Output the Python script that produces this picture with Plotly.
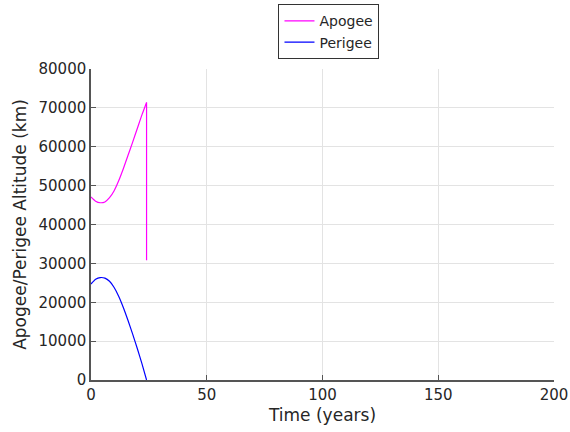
import plotly.graph_objects as go

# Orbit decay history: apogee/perigee altitude versus time
apogee_t = [0, 2, 4, 6, 8, 10, 12, 14, 16, 18, 20, 22, 24, 24]
apogee_km = [47100, 46000, 45600, 45800, 46900, 48700, 51300, 54400,
             57800, 61200, 64700, 68200, 71400, 30800]

perigee_t = [0, 2, 4, 6, 8, 10, 12, 14, 16, 18, 20, 22, 24]
perigee_km = [24700, 25900, 26350, 26200, 25400, 23800, 21500, 18600,
              15300, 11800, 8100, 4200, 0]

x_ticks = [0, 50, 100, 150, 200]
y_ticks = [0, 10000, 20000, 30000, 40000, 50000, 60000, 70000, 80000]

font_family = "DejaVu Sans"
axis_color = "#555555"
grid_color = "#e3e3e3"
text_color = "#262626"

fig = go.Figure()
# smooth apogee history up to re-entry
fig.add_trace(go.Scatter(x=apogee_t[:-1], y=apogee_km[:-1], mode="lines", name="Apogee",
                         line=dict(color="#ff00ff", width=1.2, shape="spline", smoothing=0.6)))
fig.add_trace(go.Scatter(x=perigee_t, y=perigee_km, mode="lines", name="Perigee",
                         line=dict(color="#0000ff", width=1.2, shape="spline", smoothing=0.6)))
# final drop of the apogee at re-entry
fig.add_trace(go.Scatter(x=apogee_t[-2:], y=apogee_km[-2:], mode="lines", showlegend=False,
                         line=dict(color="#ff00ff", width=1.2)))

fig.update_layout(
    width=570, height=432,
    margin=dict(l=91, r=16, t=69, b=52, autoexpand=False),
    paper_bgcolor="white", plot_bgcolor="white",
    font=dict(family=font_family, color=text_color),
    legend=dict(x=0.514, y=0.99, xanchor="center", yanchor="top", yref="container",
                bgcolor="white", bordercolor="#333333", borderwidth=1,
                font=dict(size=14, family=font_family), tracegroupgap=0,
                entrywidth=100),
    showlegend=True,
)

fig.update_xaxes(
    range=[0, 200], tickvals=x_ticks, ticktext=[str(v) for v in x_ticks],
    showgrid=True, gridcolor=grid_color, gridwidth=1,
    showline=True, linecolor=axis_color, linewidth=1.5,
    ticks="inside", ticklen=5, tickcolor=axis_color,
    tickfont=dict(size=15, color=text_color), zeroline=False,
    title=dict(text="Time (years)", font=dict(size=17, color=text_color), standoff=6),
)
fig.update_yaxes(
    range=[0, 80000], tickvals=y_ticks, ticktext=[str(v) for v in y_ticks],
    showgrid=True, gridcolor=grid_color, gridwidth=1,
    showline=True, linecolor=axis_color, linewidth=1.5,
    ticks="inside", ticklen=5, tickcolor=axis_color,
    tickfont=dict(size=15, color=text_color), zeroline=False,
    title=dict(text="Apogee/Perigee Altitude (km)", font=dict(size=17, color=text_color), standoff=8),
)

fig.write_html("out.html")
